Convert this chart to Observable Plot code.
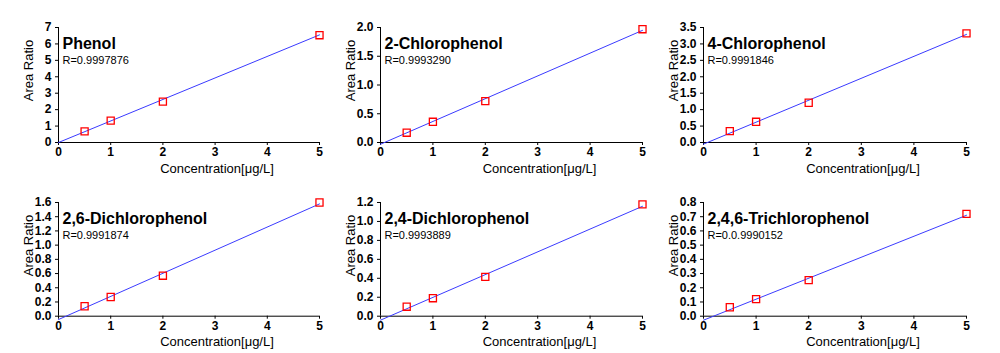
<!DOCTYPE html>
<html><head><meta charset="utf-8">
<script src="https://cdn.jsdelivr.net/npm/d3@7"></script>
<script src="https://cdn.jsdelivr.net/npm/@observablehq/plot@0.6"></script>
<style>
body{margin:0;background:#fff;}
#chart{position:relative;width:1000px;height:353px;background:#fff;overflow:hidden;}
#chart > div, #chart > svg{position:absolute;}
</style></head><body><div id="chart"></div>
<script>
const compounds = ["Phenol","2-Chlorophenol","4-Chlorophenol","2,6-Dichlorophenol","2,4-Dichlorophenol","2,4,6-Trichlorophenol"];
const rLabels = ["R=0.9997876","R=0.9993290","R=0.9991846","R=0.9991874","R=0.9993889","R=0.0.9990152"];
const concentrations = [0.5, 1, 2, 5];
const phenol = [0.68, 1.33, 2.49, 6.53];
const chloro2 = [0.17, 0.36, 0.72, 1.97];
const chloro4 = [0.345, 0.63, 1.21, 3.32];
const dichloro26 = [0.14, 0.27, 0.57, 1.60];
const dichloro24 = [0.10, 0.19, 0.415, 1.18];
const trichloro246 = [0.063, 0.12, 0.254, 0.72];
const areaRatios = [phenol, chloro2, chloro4, dichloro26, dichloro24, trichloro246];
const fitAtZero = [0, -0.03, -0.05, -0.047, -0.042, -0.028];
const fitAtFive = [6.55, 1.95, 3.29, 1.58, 1.16, 0.71];
const yMax = [7, 2.0, 3.5, 1.6, 1.2, 0.8];
const yStep = [1, 0.5, 0.5, 0.2, 0.2, 0.1];
const yDecimals = [0, 1, 1, 1, 1, 1];
const xTicks = [0, 1, 2, 3, 4, 5];
const xLabel = "Concentration[μg/L]";
const yLabel = "Area Ratio";

const FONT = "'Liberation Sans', Arial, sans-serif";
const colLeft = [0, 322, 645];
const colFrameW = [261, 262, 263];
const rowFrameTop = [27.3, 202.3];
const rowFrameH = [115, 113.7];
const mL = 58, mT = 20, mB = 40, mR = 10;

const chart = document.getElementById("chart");
compounds.forEach((name, i) => {
  const col = i % 3, row = Math.floor(i / 3);
  const pts = concentrations.map((c, j) => ({c, v: areaRatios[i][j]}));
  const fit = [{c: xTicks[0], v: fitAtZero[i]}, {c: xTicks[xTicks.length - 1], v: fitAtFive[i]}];
  const yTicks = d3.range(0, Math.round(yMax[i] / yStep[i]) + 1).map(k => +(k * yStep[i]).toFixed(3));
  const plot = Plot.plot({
    width: mL + colFrameW[col] + mR,
    height: mT + rowFrameH[row] + mB,
    marginLeft: mL, marginRight: mR, marginTop: mT, marginBottom: mB,
    style: {fontFamily: FONT, background: "transparent", overflow: "visible", color: "#000"},
    x: {domain: [xTicks[0], xTicks[xTicks.length - 1]]},
    y: {domain: [0, yMax[i]]},
    marks: [
      Plot.axisX({ticks: xTicks, tickSize: 3, tickPadding: 2, fontSize: 12, fontWeight: "bold", label: null, tickFormat: d3.format("d")}),
      Plot.axisY({ticks: yTicks, tickSize: 3, tickPadding: 4, fontSize: 12, fontWeight: "bold", label: null, tickFormat: d => d.toFixed(yDecimals[i])}),
      Plot.ruleX([0], {stroke: "#000", strokeWidth: 1}),
      Plot.ruleY([0], {stroke: "#000", strokeWidth: 1}),
      Plot.line(fit, {x: "c", y: "v", stroke: "#3a3aff", strokeWidth: 1}),
      Plot.dot(pts, {x: "c", y: "v", symbol: "square", r: 4, stroke: "#ff0000", strokeWidth: 1.3, fill: "none"}),
      Plot.text([name], {frameAnchor: "top-left", text: d => d, textAnchor: "start", lineAnchor: "top", dx: 4, dy: 10, fontSize: 16, fontWeight: "bold", fill: "#000"}),
      Plot.text([rLabels[i]], {frameAnchor: "top-left", text: d => d, textAnchor: "start", lineAnchor: "top", dx: 4, dy: 29, fontSize: 11, fill: "#000"}),
      Plot.text([xLabel], {frameAnchor: "bottom", text: d => d, lineAnchor: "top", dx: 28, dy: 21, fontSize: 13, fill: "#000"}),
      Plot.text([yLabel], {frameAnchor: "top-left", text: d => d, rotate: -90, textAnchor: "middle", lineAnchor: "middle", dx: -30, dy: 43, fontSize: 13, fill: "#000"})
    ]
  });
  plot.style.left = (colLeft[col]) + "px";
  plot.style.top = (rowFrameTop[row] - mT) + "px";
  chart.appendChild(plot);
});
</script></body></html>
